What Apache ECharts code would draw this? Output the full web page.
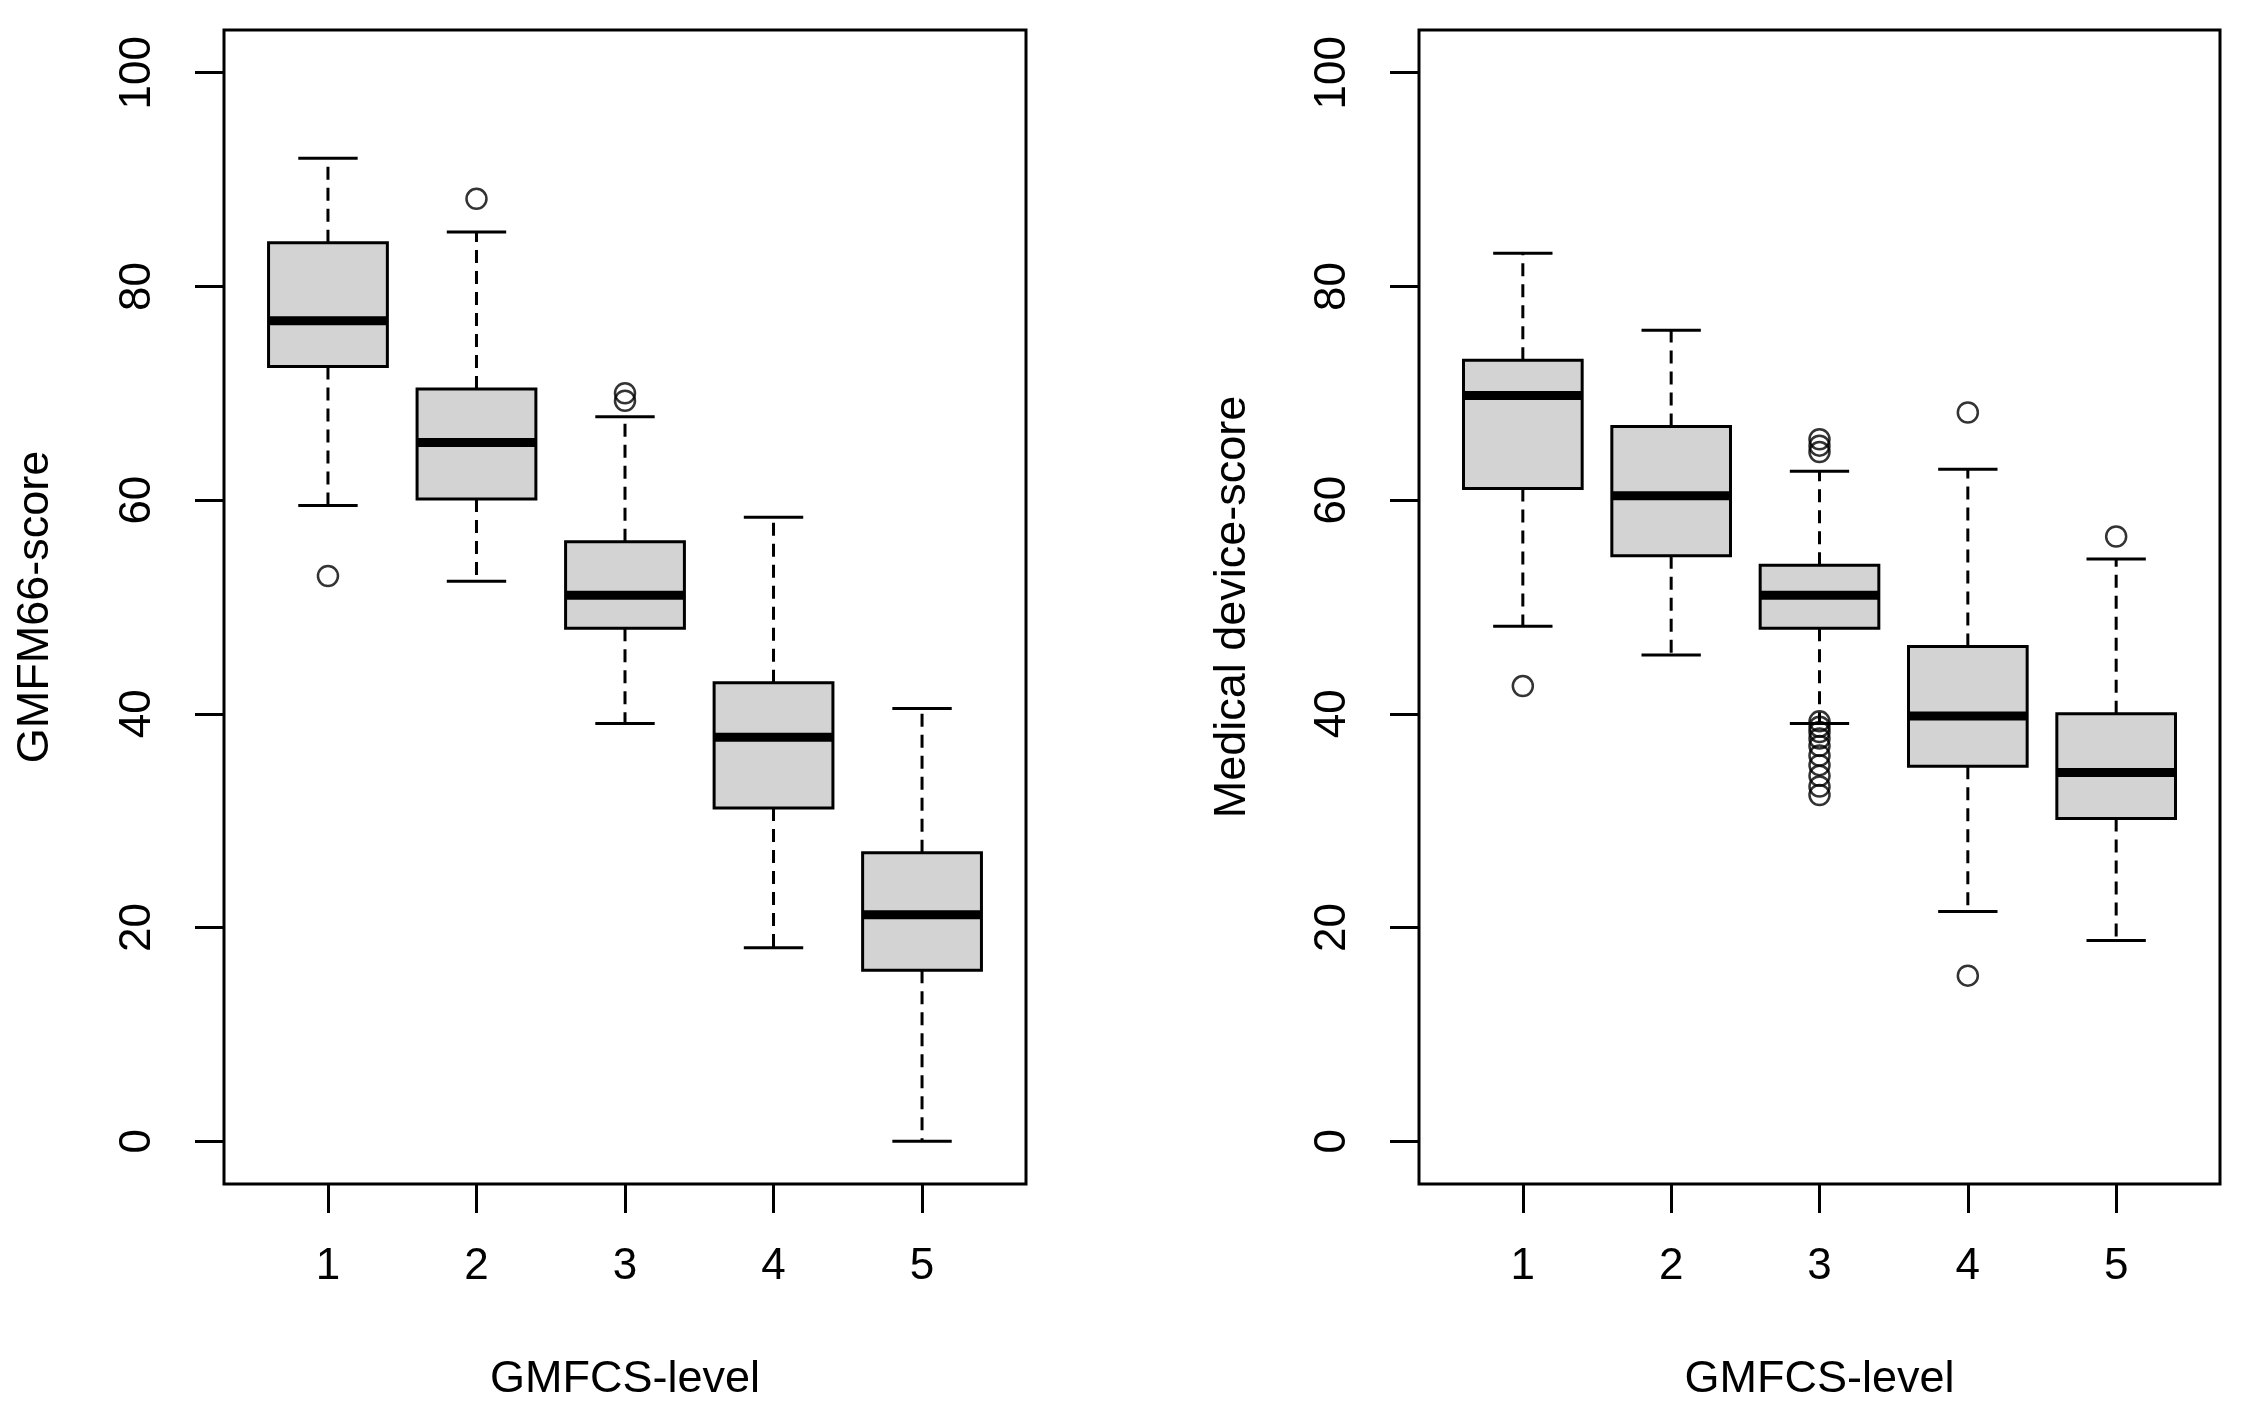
<!DOCTYPE html>
<html>
<head>
<meta charset="utf-8">
<script src="https://cdn.jsdelivr.net/npm/echarts@6/dist/echarts.min.js"></script>
<style>
html,body{margin:0;padding:0;background:#fff;}
#chart{width:2256px;height:1413px;}
</style>
</head>
<body>
<div id="chart"></div>
<script>
// ---- data ----
const levels = [1, 2, 3, 4, 5];
const yTicks = [0, 20, 40, 60, 80, 100];
const xTitle = 'GMFCS-level';
const yTitleLeft = 'GMFM66-score';
const yTitleRight = 'Medical device-score';

// [min whisker, Q1, median, Q3, max whisker]
const gmfmStats = [
  [59.5, 72.5, 76.8, 84.1, 92.0],
  [52.4, 60.1, 65.4, 70.4, 85.1],
  [39.1, 48.0, 51.1, 56.1, 67.8],
  [18.1, 31.2, 37.8, 42.9, 58.4],
  [0.0, 16.0, 21.2, 27.0, 40.5]
];
// outliers: [level, value]
const gmfmOutliers = [
  [1, 52.9],
  [2, 88.2],
  [3, 70.0], [3, 69.3]
];

const deviceStats = [
  [48.2, 61.1, 69.8, 73.1, 83.1],
  [45.5, 54.8, 60.4, 66.9, 75.9],
  [39.1, 48.0, 51.1, 53.9, 62.7],
  [21.5, 35.1, 39.8, 46.3, 62.9],
  [18.8, 30.2, 34.5, 40.0, 54.5]
];
const deviceOutliers = [
  [1, 42.6],
  [3, 65.7], [3, 65.1], [3, 64.5],
  [3, 39.3], [3, 38.8], [3, 38.3], [3, 37.7], [3, 37.0], [3, 36.1], [3, 35.2], [3, 34.2], [3, 33.2], [3, 32.4],
  [4, 68.2], [4, 15.5],
  [5, 56.6]
];

// ---- build ----
const FONT = '"Liberation Sans", Arial, sans-serif';
const dash = [13, 8];

function renderBox(params, api) {
  const x = api.value(0);
  const mn = api.coord([x, api.value(1)]);
  const q1 = api.coord([x, api.value(2)]);
  const md = api.coord([x, api.value(3)]);
  const q3 = api.coord([x, api.value(4)]);
  const mx = api.coord([x, api.value(5)]);
  const hw = api.size([0.4, 0])[0];
  const cw = api.size([0.2, 0])[0];
  const cx = mn[0];
  const ls = {stroke: '#000', lineWidth: 3, fill: null};
  return {
    type: 'group',
    children: [
      {type: 'line', shape: {x1: cx, y1: q3[1], x2: cx, y2: mx[1]}, style: Object.assign({}, ls, {lineDash: dash})},
      {type: 'line', shape: {x1: cx, y1: q1[1], x2: cx, y2: mn[1]}, style: Object.assign({}, ls, {lineDash: dash})},
      {type: 'line', shape: {x1: cx - cw, y1: mx[1], x2: cx + cw, y2: mx[1]}, style: ls},
      {type: 'line', shape: {x1: cx - cw, y1: mn[1], x2: cx + cw, y2: mn[1]}, style: ls},
      {type: 'rect', shape: {x: cx - hw, y: q3[1], width: 2 * hw, height: q1[1] - q3[1]},
        style: {fill: '#D3D3D3', stroke: '#000', lineWidth: 3}},
      {type: 'line', shape: {x1: cx - hw, y1: md[1], x2: cx + hw, y2: md[1]}, style: {stroke: '#000', lineWidth: 9}}
    ]
  };
}

function boxData(stats) {
  return stats.map((s, i) => [levels[i]].concat(s));
}

const grids = [
  {left: 224, right: 1230, top: 30, bottom: 229},
  {left: 1419, right: 36, top: 30, bottom: 229}
];

function xAxisFor(gi) {
  return {
    gridIndex: gi, type: 'value', min: 0.3, max: 5.7, position: 'bottom',
    name: xTitle, nameLocation: 'middle', nameGap: 173,
    nameTextStyle: {fontFamily: FONT, fontSize: 45, color: '#000'},
    axisLine: {show: false, onZero: false},
    axisTick: {show: true, length: 29, customValues: levels, lineStyle: {color: '#000', width: 3}},
    axisLabel: {show: true, customValues: levels, margin: 61, fontFamily: FONT, fontSize: 44, color: '#000'},
    splitLine: {show: false}
  };
}
function yAxisFor(gi, title, gap) {
  return {
    gridIndex: gi, type: 'value', min: -4, max: 104, position: 'left',
    name: title, nameLocation: 'middle', nameGap: gap, nameRotate: 90,
    nameTextStyle: {fontFamily: FONT, fontSize: 45, color: '#000'},
    axisLine: {show: false, onZero: false},
    axisTick: {show: true, length: 29, customValues: yTicks, lineStyle: {color: '#000', width: 3}},
    axisLabel: {show: true, customValues: yTicks, rotate: 90, margin: 64, fontFamily: FONT, fontSize: 44, color: '#000'},
    splitLine: {show: false}
  };
}

const option = {
  backgroundColor: '#fff',
  animation: false,
  grid: grids.map(g => Object.assign({show: true, borderColor: '#000', borderWidth: 3, backgroundColor: 'transparent'}, g)),
  xAxis: [xAxisFor(0), xAxisFor(1)],
  yAxis: [yAxisFor(0, yTitleLeft, 166), yAxisFor(1, yTitleRight, 164)],
  series: [
    {type: 'custom', xAxisIndex: 0, yAxisIndex: 0, renderItem: renderBox, data: boxData(gmfmStats),
      encode: {x: 0, y: [1, 2, 3, 4, 5]}, clip: false},
    {type: 'custom', xAxisIndex: 1, yAxisIndex: 1, renderItem: renderBox, data: boxData(deviceStats),
      encode: {x: 0, y: [1, 2, 3, 4, 5]}, clip: false},
    {type: 'scatter', xAxisIndex: 0, yAxisIndex: 0, data: gmfmOutliers, symbol: 'circle', symbolSize: 20,
      itemStyle: {color: 'rgba(0,0,0,0)', borderColor: '#000', borderWidth: 2.5}},
    {type: 'scatter', xAxisIndex: 1, yAxisIndex: 1, data: deviceOutliers, symbol: 'circle', symbolSize: 20,
      itemStyle: {color: 'rgba(0,0,0,0)', borderColor: '#000', borderWidth: 2.5}}
  ]
};

const chart = echarts.init(document.getElementById('chart'), null, {renderer: 'canvas'});
chart.setOption(option);
</script>
</body>
</html>
